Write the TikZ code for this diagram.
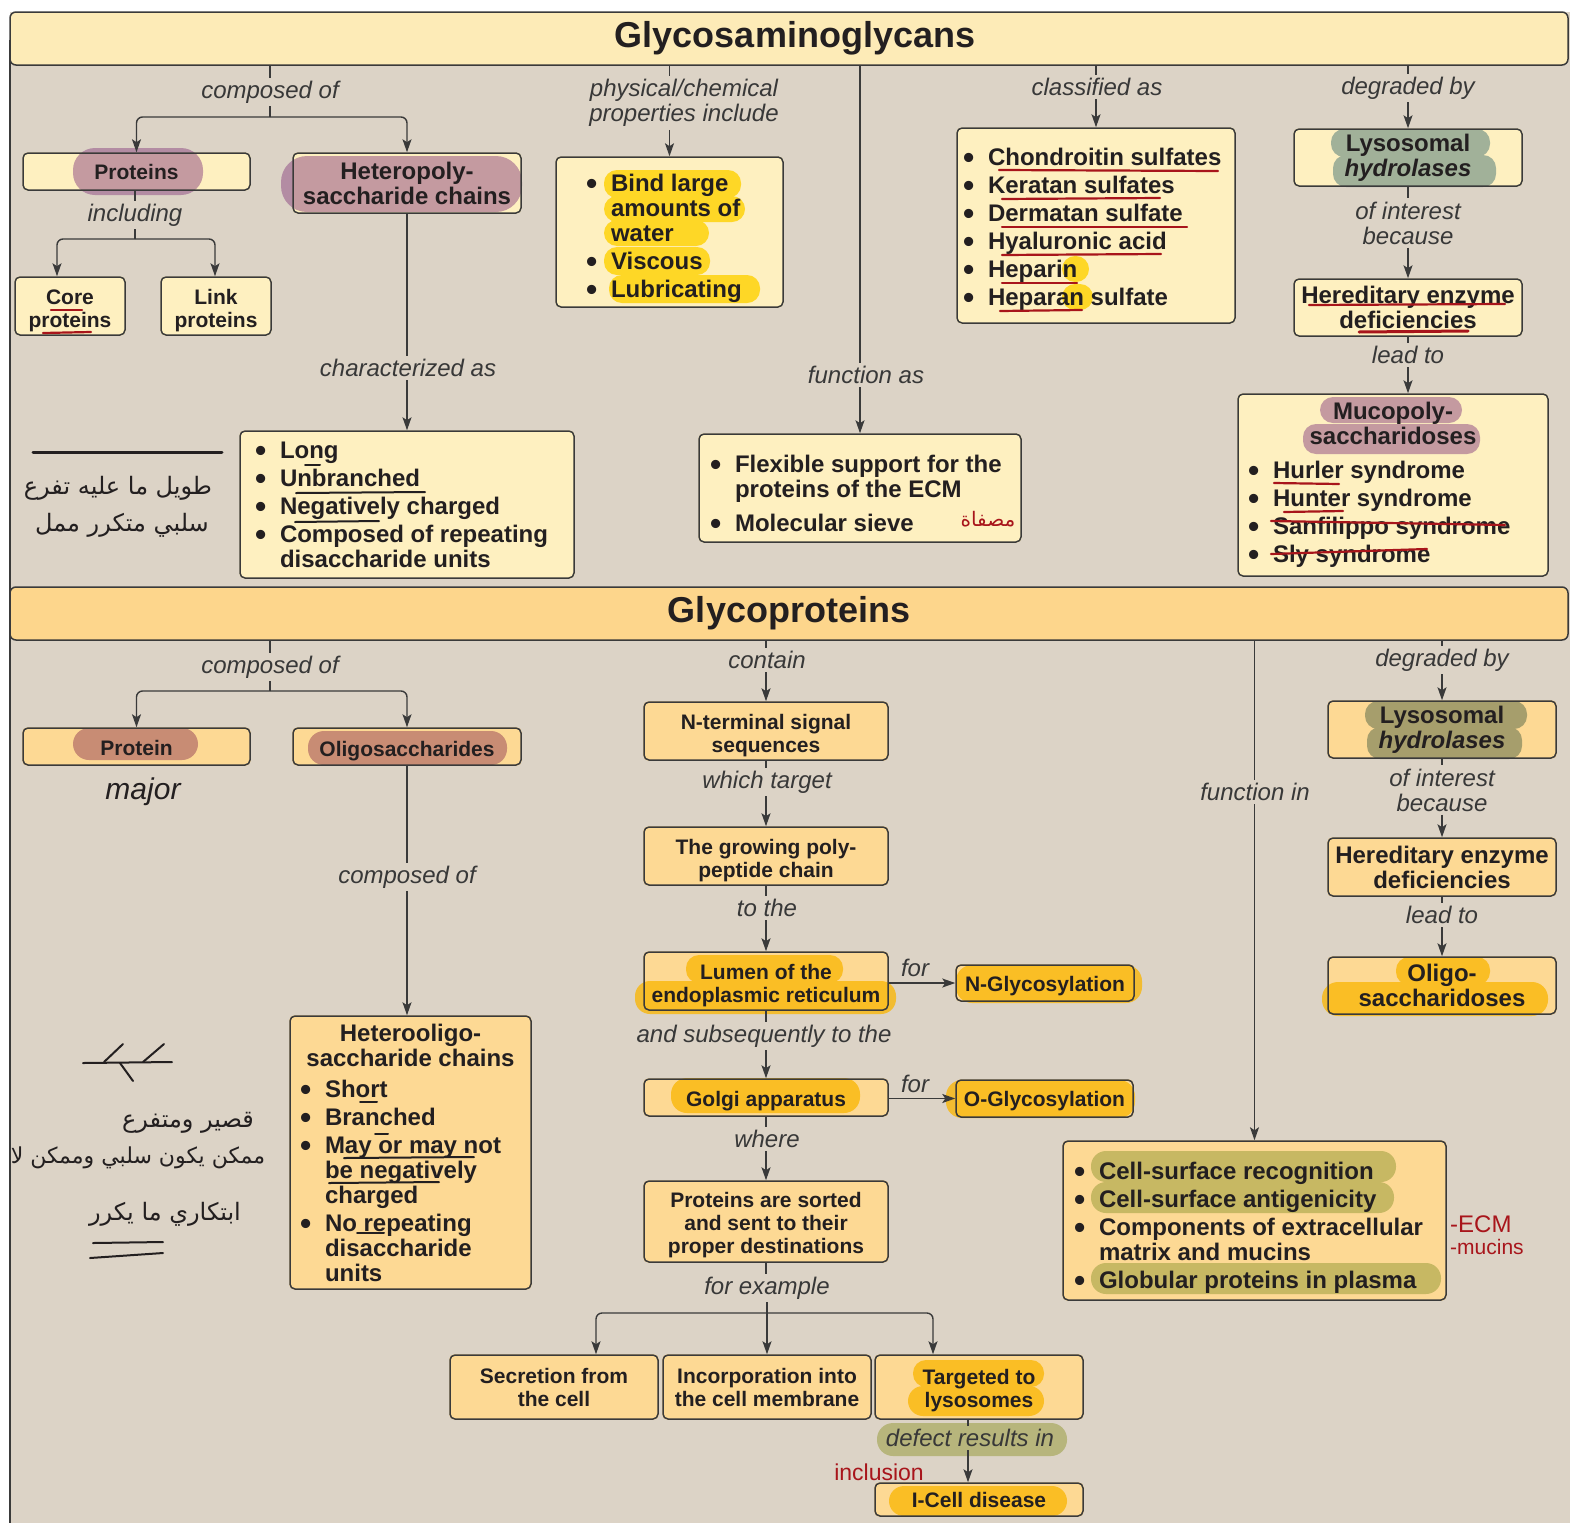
\documentclass[tikz,border=0pt]{standalone}
\usepackage{fontspec}
\setmainfont{Liberation Sans}
\newfontfamily\arabicfont[Script=Arabic]{DejaVu Sans}
\TeXXeTstate=1
\usetikzlibrary{arrows.meta}
\pgfdeclarelayer{bgl}
\pgfdeclarelayer{fills}
\pgfdeclarelayer{hl}
\pgfsetlayers{bgl,fills,hl,main}
\definecolor{panel}{HTML}{DCD3C6}
\definecolor{upfill}{HTML}{FEF0C0}
\definecolor{lofill}{HTML}{FDD994}
\definecolor{tonefill}{HTML}{FDEBB7}
\definecolor{ttwofill}{HTML}{FDD68C}
\definecolor{ink}{HTML}{231F20}
\definecolor{lblc}{HTML}{383838}
\definecolor{edge}{HTML}{3A3A3A}
\definecolor{hlpurple}{RGB}{140,70,130}
\definecolor{hlteal}{RGB}{70,115,115}
\definecolor{hltealb}{RGB}{80,100,70}
\definecolor{hlyellow}{RGB}{255,209,0}
\definecolor{hlorange}{RGB}{250,181,0}
\definecolor{hlred}{RGB}{158,77,90}
\definecolor{hlolive}{RGB}{147,153,52}
\definecolor{redpen}{HTML}{A8151B}
\newcommand{\bul}{\makebox[25pt][l]{\raisebox{-3pt}{\fontsize{32}{25}\selectfont\textbullet}}}
\newcommand{\bi}[2]{\makebox[#1][l]{\bul#2}}
\newcommand{\ci}[2]{\makebox[#1][l]{\hspace{25pt}#2}}
\begin{document}
\begin{tikzpicture}[x=1pt,y=-1pt,
 box/.style={draw=edge,line width=1.5pt,rounded corners=5pt,inner sep=0pt,align=center,text=ink},
 big/.style={font=\fontsize{24}{25}\selectfont\bfseries},
 sml/.style={font=\fontsize{21}{23}\selectfont\bfseries},
 tdn/.style={text height=#1},
 ttl/.style={draw=edge,line width=1.5pt,rounded corners=6pt,inner sep=0pt,text=ink,font=\fontsize{36}{40}\selectfont\bfseries},
 lbl/.style={font=\fontsize{24}{25}\selectfont\itshape,text=lblc,inner sep=3pt,align=center},
 conn/.style={draw=edge,line width=1.4pt},
 arr/.style={conn,-{Stealth[length=13pt,width=9pt,inset=3pt]}},
 rc/.style={rounded corners=6pt},
 rpen/.style={draw=redpen,line width=2.2pt,line cap=round},
 kpen/.style={draw=ink,line width=2pt,line cap=round},
 hand/.style={inner sep=0pt,text=ink},
 hlr/.style={rounded corners=13pt}]
\useasboundingbox (0,0) rectangle (1570,1523);
\begin{pgfonlayer}{bgl}
\fill[white] (0,0) rectangle (1570,1523);
\fill[panel] (10,12) rectangle (1570,1523);
\draw[edge,line width=1.5pt] (10,40) -- (10,1523);
\end{pgfonlayer}

% titles
\node[ttl,fill=tonefill,minimum width=1558pt,minimum height=53pt] (T1) at (789,38.5) {\hspace{12pt}Glycosaminoglycans};
\node[ttl,fill=ttwofill,minimum width=1558pt,minimum height=53pt] (T2) at (789,613.5) {Glycoproteins};

% ---------- upper boxes
\node[box,sml,minimum width=227pt,minimum height=37pt] (prot) at (136.5,171.5) {Proteins};
\node[box,big,minimum width=228pt,minimum height=60pt] (hps) at (407,183) {Heteropoly-\\saccharide chains};
\node[box,sml,tdn=48pt,minimum width=110pt,minimum height=58pt] (core) at (70,306) {Core\\proteins};
\node[box,sml,tdn=48pt,minimum width=110pt,minimum height=58pt] (link) at (216,306) {Link\\proteins};
\node[box,big,tdn=137pt,minimum width=227pt,minimum height=150pt] (phys) at (669.5,232)
 {\bi{167pt}{Bind large}\\\ci{167pt}{amounts of}\\\ci{167pt}{water}\\[3pt]\bi{167pt}{Viscous}\\[3pt]\bi{167pt}{Lubricating}};
\node[box,big,tdn=165pt,minimum width=278pt,minimum height=195pt] (class) at (1096,225.5)
 {\bi{266pt}{Chondroitin sulfates}\\[3pt]\bi{266pt}{Keratan sulfates}\\[3pt]\bi{266pt}{Dermatan sulfate}\\[3pt]\bi{266pt}{Hyaluronic acid}\\[3pt]\bi{266pt}{Heparin}\\[3pt]\bi{266pt}{Heparan sulfate}};
\node[box,big,minimum width=228pt,minimum height=57pt] (lysoA) at (1408,157.5) {Lysosomal\\\textit{hydrolases}};
\node[box,big,minimum width=228pt,minimum height=57pt] (herA) at (1408,307.5) {Hereditary enzyme\\deficiencies};
\node[box,big,minimum width=310pt,minimum height=182pt] (mps) at (1393,485)
 {Mucopoly-\\saccharidoses\\[9pt]\bi{290pt}{Hurler syndrome}\\[3pt]\bi{290pt}{Hunter syndrome}\\[3pt]\bi{290pt}{Sanfilippo syndrome}\\[3pt]\bi{290pt}{Sly syndrome}};
\node[box,big,minimum width=334pt,minimum height=147pt] (char) at (407,504.5)
 {\bi{304pt}{Long}\\[3pt]\bi{304pt}{Unbranched}\\[3pt]\bi{304pt}{Negatively charged}\\[3pt]\bi{304pt}{Composed of repeating}\\\ci{304pt}{disaccharide units}};
\node[box,big,tdn=90pt,minimum width=322pt,minimum height=108pt] (func) at (860,488)
 {\bi{300pt}{Flexible support for the}\\\ci{300pt}{proteins of the ECM}\\[9pt]\bi{300pt}{Molecular sieve}};

% ---------- lower boxes
\node[box,sml,tdn=19pt,minimum width=227pt,minimum height=37pt] (protein) at (136.5,746.5) {Protein};
\node[box,sml,tdn=25pt,minimum width=228pt,minimum height=37pt] (oligo) at (407,746.5) {Oligosaccharides};
\node[box,big,minimum width=241pt,minimum height=273pt] (hoc) at (410.5,1152.5)
 {Heterooligo-\\saccharide chains\\[6pt]\bi{221pt}{Short}\\[3pt]\bi{221pt}{Branched}\\[3pt]\bi{221pt}{May or may not}\\\ci{221pt}{be negatively}\\\ci{221pt}{charged}\\[3pt]\bi{221pt}{No repeating}\\\ci{221pt}{disaccharide}\\\ci{221pt}{units}};
\node[box,sml,tdn=48pt,minimum width=244pt,minimum height=58pt] (nterm) at (766,731) {N-terminal signal\\sequences};
\node[box,sml,tdn=48pt,minimum width=244pt,minimum height=58pt] (grow) at (766,856) {The growing poly-\\peptide chain};
\node[box,sml,tdn=48pt,minimum width=244pt,minimum height=58pt] (lumen) at (766,981) {Lumen of the\\endoplasmic reticulum};
\node[box,sml,tdn=21pt,minimum width=178pt,minimum height=36pt] (nglyc) at (1045,983) {N-Glycosylation};
\node[box,sml,tdn=23pt,minimum width=244pt,minimum height=37pt] (golgi) at (766,1097.5) {Golgi apparatus};
\node[box,sml,tdn=21pt,minimum width=177pt,minimum height=37pt] (oglyc) at (1044.5,1098.5) {O-Glycosylation};
\node[box,sml,tdn=69pt,minimum width=244pt,minimum height=81pt] (sorted) at (766,1221.5) {Proteins are sorted\\and sent to their\\proper destinations};
\node[box,sml,minimum width=208pt,minimum height=64pt] (secr) at (554,1387) {Secretion from\\the cell};
\node[box,sml,minimum width=208pt,minimum height=64pt] (incorp) at (767,1387) {Incorporation into\\the cell membrane};
\node[box,sml,tdn=46pt,minimum width=208pt,minimum height=64pt] (target) at (979,1387) {Targeted to\\lysosomes};
\node[box,sml,minimum width=208pt,minimum height=33pt] (icell) at (979,1499.5) {I-Cell disease};
\node[box,big,tdn=140pt,minimum width=383pt,minimum height=159pt] (cs) at (1254.5,1220.5)
 {\bi{361pt}{Cell-surface recognition}\\[3pt]\bi{361pt}{Cell-surface antigenicity}\\[3pt]\bi{361pt}{Components of extracellular}\\\ci{361pt}{matrix and mucins}\\[3pt]\bi{361pt}{Globular proteins in plasma}};
\node[box,big,minimum width=228pt,minimum height=57pt] (lysoB) at (1442,729.5) {Lysosomal\\\textit{hydrolases}};
\node[box,big,minimum width=228pt,minimum height=58pt] (herB) at (1442,867) {Hereditary enzyme\\deficiencies};
\node[box,big,minimum width=228pt,minimum height=57pt] (osd) at (1442,985.5) {Oligo-\\saccharidoses};

% box fills
\begin{pgfonlayer}{fills}
\foreach \n in {prot,hps,core,link,phys,class,lysoA,herA,mps,char,func}
 \fill[upfill,rounded corners=5pt] (\n.south west) rectangle (\n.north east);
\foreach \n in {protein,oligo,hoc,nterm,grow,lumen,nglyc,golgi,oglyc,sorted,secr,incorp,target,icell,cs,lysoB,herB,osd}
 \fill[lofill,rounded corners=5pt] (\n.south west) rectangle (\n.north east);
\end{pgfonlayer}

% highlights
\begin{pgfonlayer}{hl}
\begin{scope}[transparency group,opacity=.5]
\fill[hlpurple,rounded corners=22pt] (73,148) rectangle (203,195);
\fill[hlpurple,rounded corners=26pt] (281,156) rectangle (522,212);
\fill[hlpurple,hlr] (1320,397) rectangle (1462,423);
\fill[hlpurple,hlr] (1303,424) rectangle (1480,454);
\end{scope}
\begin{scope}[transparency group,opacity=.8]
\fill[hlyellow,hlr] (604,170) rectangle (741,198);
\fill[hlyellow,hlr] (604,196) rectangle (745,222);
\fill[hlyellow,hlr] (604,220) rectangle (709,246);
\fill[hlyellow,hlr] (604,247) rectangle (710,275);
\fill[hlyellow,hlr] (609,275) rectangle (760,303);
\fill[hlyellow,hlr] (1062,256) rectangle (1089,282);
\fill[hlyellow,hlr] (1062,284) rectangle (1093,310);
\end{scope}
\begin{scope}[transparency group,opacity=.5]
\fill[hlteal,hlr] (1331,129) rectangle (1490,157);
\fill[hlteal,hlr] (1333,155) rectangle (1496,187);
\end{scope}
\begin{scope}[transparency group,opacity=.5]
\fill[hltealb,hlr] (1365,701) rectangle (1527,729);
\fill[hltealb,hlr] (1367,727) rectangle (1522,759);
\end{scope}
\begin{scope}[transparency group,opacity=.55]
\fill[hlred,rounded corners=16pt] (73,728) rectangle (198,760);
\fill[hlred,rounded corners=16pt] (308,731) rectangle (507,765);
\end{scope}
\begin{scope}[transparency group,opacity=.75]
\fill[hlorange,hlr] (686,955) rectangle (843,983);
\fill[hlorange,rounded corners=15pt] (635,981) rectangle (896,1014);
\fill[hlorange,rounded corners=16pt] (671,1078) rectangle (860,1113);
\fill[hlorange,rounded corners=16pt] (956,965) rectangle (1142,1003);
\fill[hlorange,rounded corners=16pt] (946,1080) rectangle (1135,1118);
\fill[hlorange,hlr] (1396,957) rectangle (1490,985);
\fill[hlorange,rounded corners=16pt] (1322,982) rectangle (1548,1016);
\fill[hlorange,hlr] (913,1360) rectangle (1044,1387);
\fill[hlorange,rounded corners=15pt] (908,1386) rectangle (1044,1416);
\fill[hlorange,rounded corners=15pt] (889,1486) rectangle (1067,1516);
\end{scope}
\begin{scope}[transparency group,opacity=.5]
\fill[hlolive,rounded corners=15pt] (1091,1151) rectangle (1396,1182);
\fill[hlolive,rounded corners=15pt] (1091,1182) rectangle (1394,1213);
\fill[hlolive,rounded corners=15pt] (1091,1263) rectangle (1441,1294);
\fill[hlolive,rounded corners=16pt] (877,1423) rectangle (1067,1456);
\end{scope}
\end{pgfonlayer}

% ---------- upper connectors
\node[lbl] (lA) at (270,92) {composed of};
\coordinate (bA) at (270,117);
\draw[conn] (lA |- T1.south) -- (lA);
\draw[conn] (lA) -- (bA);
\draw[arr,rc] (bA) -| (prot);
\draw[arr,rc] (bA) -| (hps);
\node[lbl] (lB) at (135,215) {including};
\coordinate (bB) at (135,239);
\coordinate (bBl) at (57,239);
\coordinate (bBr) at (215,239);
\draw[conn] (lB |- prot.south) -- (lB);
\draw[conn] (lB) -- (bB);
\draw[arr,rc] (bB) -- (bBl) -- (bBl |- core.north);
\draw[arr,rc] (bB) -- (bBr) -- (bBr |- link.north);
\node[lbl] (lC) at (408,368) {characterized as};
\draw[conn] (hps.south) -- (hps.south |- lC.north);
\draw[arr] (hps.south |- lC.south) -- (char.north);
\node[lbl] (lD) at (684,103) {physical/chemical\\properties include};
\draw[conn] (phys.north |- T1.south) -- (phys.north |- lD.north);
\draw[arr] (phys.north |- lD.south) -- (phys.north);
\node[lbl] (lE) at (866,375) {function as};
\draw[conn] (func.north |- T1.south) -- (func.north |- lE.north);
\draw[arr] (func.north |- lE.south) -- (func.north);
\node[lbl] (lF) at (1097,87) {classified as};
\draw[conn] (class.north |- T1.south) -- (class.north |- lF.north);
\draw[arr] (class.north |- lF.south) -- (class.north);
\node[lbl] (lG) at (1408,88) {degraded by};
\draw[conn] (lysoA.north |- T1.south) -- (lysoA.north |- lG.north);
\draw[arr] (lysoA.north |- lG.south) -- (lysoA.north);
\node[lbl] (lH) at (1408,223) {of interest\\because};
\draw[conn] (lysoA) -- (lH);
\draw[arr] (lH) -- (herA);
\node[lbl] (lI) at (1408,355) {lead to};
\draw[conn] (herA) -- (lI);
\draw[arr] (lI) -- (lI |- mps.north);

% ---------- lower connectors
\node[lbl] (mA) at (270,667) {composed of};
\coordinate (cA) at (270,691);
\draw[conn] (mA |- T2.south) -- (mA);
\draw[conn] (mA) -- (cA);
\draw[arr,rc] (cA) -| (protein);
\draw[arr,rc] (cA) -| (oligo);
\node[lbl] (mB) at (407,877) {composed of};
\draw[conn] (oligo) -- (mB);
\draw[arr] (mB) -- (mB |- hoc.north);
\node[lbl] (mC) at (767,660) {contain};
\draw[conn] (nterm.north |- T2.south) -- (nterm.north |- mC.north);
\draw[arr] (nterm.north |- mC.south) -- (nterm.north);
\node[lbl] (mD) at (767,782) {which target};
\draw[conn] (nterm.south) -- (nterm.south |- mD.north);
\draw[arr] (nterm.south |- mD.south) -- (grow.north);
\node[lbl] (mE) at (767,908) {to the};
\draw[conn] (grow.south) -- (grow.south |- mE.north);
\draw[arr] (grow.south |- mE.south) -- (lumen.north);
\node[lbl] (mF) at (764,1036) {and subsequently to the};
\draw[conn] (lumen.south) -- (lumen.south |- mF.north);
\draw[arr] (lumen.south |- mF.south) -- (golgi.north);
\node[lbl] (mG) at (767,1139) {where};
\draw[conn] (golgi.south) -- (golgi.south |- mG.north);
\draw[arr] (golgi.south |- mG.south) -- (sorted.north);
\node[lbl] (mH) at (767,1288) {for example};
\coordinate (cL) at (596,1313);
\coordinate (cR) at (933,1313);
\draw[conn] (sorted.south |- mH.north) -- (sorted.south);
\draw[arr,rc] (cL -| mH) -- (cL) -- (cL |- secr.north);
\draw[arr,rc] (cR -| mH) -- (cR) -- (cR |- target.north);
\draw[arr] (mH) -- (mH |- incorp.north);
\node[lbl] (mI) at (915,968) {for};
\draw[arr] (lumen.east |- nglyc.west) -- (nglyc.west);
\node[lbl] (mJ) at (915,1084) {for};
\draw[arr] (golgi.east |- oglyc.west) -- (oglyc.west);
\node[lbl] (mK) at (970,1438) {defect results in};
\draw[conn] (mK.north -| 968,0) -- (968,0 |- target.south);
\draw[arr] (mK.south -| 968,0) -- (968,0 |- icell.north);
\node[lbl] (mL) at (1255,792) {function in};
\draw[conn] (cs.north |- T2.south) -- (cs.north |- mL.north);
\draw[arr] (cs.north |- mL.south) -- (cs.north);
\node[lbl] (mM) at (1442,660) {degraded by};
\draw[conn] (lysoB.north |- T2.south) -- (lysoB.north |- mM.north);
\draw[arr] (lysoB.north |- mM.south) -- (lysoB.north);
\node[lbl] (mN) at (1442,790) {of interest\\because};
\draw[conn] (lysoB) -- (mN);
\draw[arr] (mN) -- (herB);
\node[lbl] (mO) at (1442,915) {lead to};
\draw[conn] (herB) -- (mO);
\draw[arr] (mO) -- (osd);

% ---------- pen marks
\draw[rpen] (51,310) -- (82,310);
\draw[rpen] (43,333) -- (91,332);
\draw[rpen] (999,170) -- (1218,171);
\draw[rpen] (1002,199) -- (1160,198);
\draw[rpen] (1002,227) -- (1187,227);
\draw[rpen] (1002,255) -- (1161,254);
\draw[rpen] (1002,283) -- (1077,283);
\draw[rpen] (1000,311) -- (1082,310);
\draw[rpen] (1309,305) -- (1505,304);
\draw[rpen,line width=3pt] (1359,332) -- (1468,331);
\draw[rpen] (1274,483) -- (1339,484);
\draw[rpen] (1284,512) -- (1343,511);
\draw[rpen] (1271,521) -- (1505,525);
\draw[rpen] (1271,554) -- (1427,549);
\draw[kpen] (305,465) -- (320,465);
\draw[kpen] (296,493) -- (425,492);
\draw[kpen] (295,522) -- (379,521);
\draw[kpen] (360,1102) -- (377,1102);
\draw[kpen] (375,1134) -- (388,1134);
\draw[kpen] (344,1158) -- (474,1157);
\draw[kpen] (329,1183) -- (439,1182);
\draw[kpen] (357,1233) -- (384,1233);
\draw[kpen,line width=3pt] (33,452) -- (222,452);
\draw[kpen] (83,1063) -- (172,1062);
\draw[kpen] (104,1062) -- (123,1044);
\draw[kpen] (120,1063) -- (133,1081);
\draw[kpen] (143,1062) -- (164,1044);
\draw[kpen] (93,1243) -- (163,1242);
\draw[kpen] (90,1258) -- (163,1253);

% ---------- handwritten notes
\node[hand] (hwA) at (118,488) {\arabicfont\fontsize{24}{26}\selectfont\beginR طويل ما عليه تفرع\endR};
\node[hand] (hwB) at (122,525) {\arabicfont\fontsize{24}{26}\selectfont\beginR سلبي متكرر ممل\endR};
\node[hand] (hwC) at (188,1123) {\arabicfont\fontsize{24}{26}\selectfont\beginR قصير ومتفرع\endR};
\node[hand] (hwD) at (138,1158) {\arabicfont\fontsize{22}{24}\selectfont\beginR ممكن يكون سلبي وممكن لا\endR};
\node[hand] (hwE) at (165,1214) {\arabicfont\fontsize{24}{26}\selectfont\beginR ابتكاري ما يكرر\endR};
\node[hand,text=redpen] (hwF) at (988,519) {\arabicfont\fontsize{20}{22}\selectfont\beginR مصفاة\endR};
\node[hand,font=\fontsize{30}{30}\selectfont\itshape] (hwG) at (143,792) {major};
\node[hand,text=redpen,font=\fontsize{23}{24}\selectfont] (hwH) at (879,1472) {inclusion};
\node[hand,text=redpen,font=\fontsize{24}{24}\selectfont,anchor=west] (hwI) at (1450,1224) {-ECM};
\node[hand,text=redpen,font=\fontsize{21}{22}\selectfont,anchor=west] (hwJ) at (1450,1247) {-mucins};
\end{tikzpicture}
\end{document}
